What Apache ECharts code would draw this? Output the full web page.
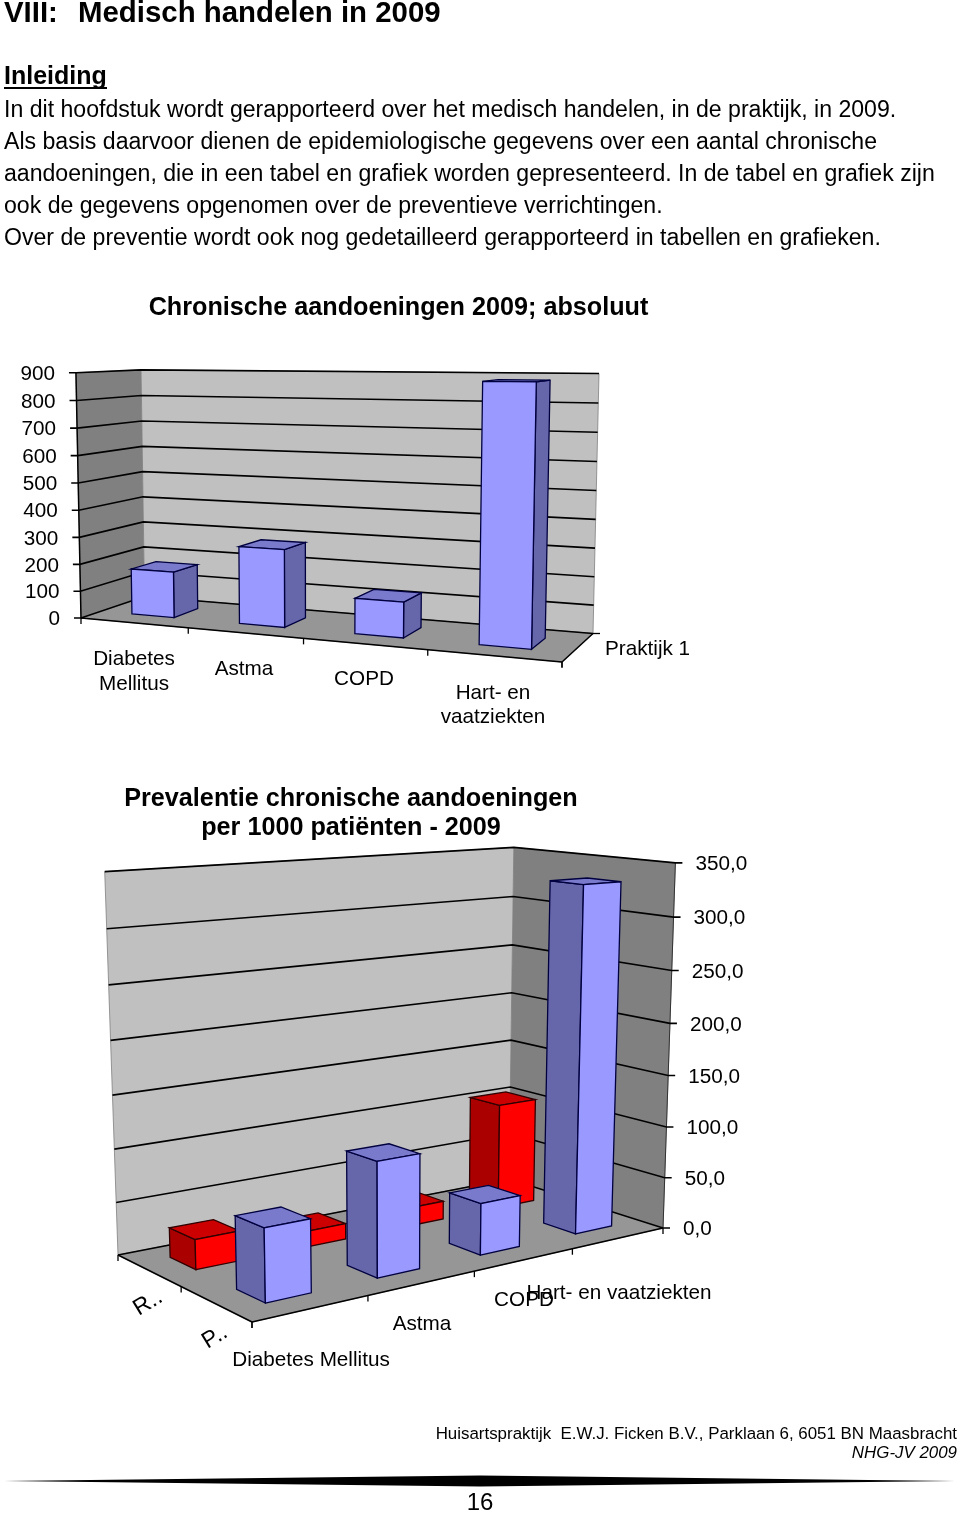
<!DOCTYPE html>
<html><head><meta charset="utf-8">
<style>html,body{margin:0;padding:0;background:#fff}#c{width:960px;height:1513px}</style>
<script src="https://cdn.jsdelivr.net/npm/echarts@6/dist/echarts.min.js"></script>
</head><body><div id="c"></div>
<script>
// ---- data ----
const absCategories = ['Diabetes\nMellitus','Astma','COPD','Hart- en\nvaatziekten'];
const absValues = [170,280,125,880];
const absTicks = [0,100,200,300,400,500,600,700,800,900];
const absSeriesName = 'Praktijk 1';
const prevCategories = ['Diabetes Mellitus','Astma','COPD','Hart- en vaatziekten'];
const prevP = [66,106,49,332];
const prevR = [28,15,18,105];
const prevTicks = [0,50,100,150,200,250,300,350];
const prevTickLabels = ['0,0','50,0','100,0','150,0','200,0','250,0','300,0','350,0'];
const prevSeriesNames = ['R..','P..'];
const headingTexts = ['VIII:','Medisch handelen in 2009','Inleiding'];
const bodyLines = [
 'In dit hoofdstuk wordt gerapporteerd over het medisch handelen, in de praktijk, in 2009.',
 'Als basis daarvoor dienen de epidemiologische gegevens over een aantal chronische',
 'aandoeningen, die in een tabel en grafiek worden gepresenteerd. In de tabel en grafiek zijn',
 'ook de gegevens opgenomen over de preventieve verrichtingen.',
 'Over de preventie wordt ook nog gedetailleerd gerapporteerd in tabellen en grafieken.'];
const chartTitle1 = 'Chronische aandoeningen 2009; absoluut';
const chartTitle2 = ['Prevalentie chronische aandoeningen','per 1000 patiënten - 2009'];
const footerLines = ['Huisartspraktijk  E.W.J. Ficken B.V., Parklaan 6, 6051 BN Maasbracht','NHG-JV 2009'];
const pageNumber = '16';

// ---- layout ----
const FONT = '"Liberation Sans", Arial, sans-serif';
const view1 = {grid:{left:81,top:373,width:481,height:245},
  floor:[[81,618],[562,662],[593,633.5],[144.5,596.5]],
  topFit:[[0,0,76,372],[0,1,141,371],[1,1,599,373]],
  side:0, tickDir:-1, tickOff:-14, gridIndex:0};
const view2 = {grid:{left:252,top:863,width:411,height:365},
  floor:[[252,1322],[663,1228],[509,1179],[118,1255]],
  topFit:[[1,0,676,863],[1,1,513,847],[0,1,105,872]],
  side:1, tickDir:1, tickOff:13, gridIndex:1};

function solve3(M,b){
  const det=m=>m[0][0]*(m[1][1]*m[2][2]-m[1][2]*m[2][1])-m[0][1]*(m[1][0]*m[2][2]-m[1][2]*m[2][0])+m[0][2]*(m[1][0]*m[2][1]-m[1][1]*m[2][0]);
  const d=det(M);
  return [0,1,2].map(c=>det(M.map((row,i)=>row.map((val,j)=>j===c?b[i]:val)))/d);
}
function projector(view){
  const [[x0,y0],[x1,y1],[x2,y2],[x3,y3]] = view.floor;
  const dx1=x1-x2,dx2=x3-x2,sx=x0-x1+x2-x3,dy1=y1-y2,dy2=y3-y2,sy=y0-y1+y2-y3;
  const den=dx1*dy2-dx2*dy1, g=(sx*dy2-dx2*sy)/den, h=(dx1*sy-sx*dy1)/den;
  const a=x1-x0+g*x1,b=x3-x0+h*x3,d=y1-y0+g*y1,e=y3-y0+h*y3;
  // vertical direction (Dx,Dy,r) fitted by least squares to the visible upper corners
  const rows=[],rhs=[];
  view.topFit.forEach(([u,v,X,Y])=>{
    const t=g*u+h*v+1, Fx=(a*u+b*v+x0)/t, Fy=(d*u+e*v+y0)/t;
    rows.push([1,0,-X]);rhs.push(t*(X-Fx));
    rows.push([0,1,-Y]);rhs.push(t*(Y-Fy));
  });
  const ATA=[0,1,2].map(i=>[0,1,2].map(j=>rows.reduce((s,r)=>s+r[i]*r[j],0)));
  const ATb=[0,1,2].map(i=>rows.reduce((s,r,k)=>s+r[i]*rhs[k],0));
  const [Dx,Dy,r]=solve3(ATA,ATb);
  return (u,v,w)=>{
    const t=g*u+h*v+1+r*w;
    return [(a*u+b*v+x0+Dx*w)/t,(d*u+e*v+y0+Dy*w)/t];
  };
}
function poly(points,fill,stroke,lw){return {type:'polygon',shape:{points},style:{fill,stroke:stroke||fill,lineWidth:lw||0.8}};}
function line(points,stroke,lw){return {type:'polyline',shape:{points},style:{fill:null,stroke:stroke||'#000',lineWidth:lw||1.3}};}

function frameSeries(view,n,extra){
  const P=projector(view), s=view.side;
  return {type:'custom',xAxisIndex:view.gridIndex,yAxisIndex:view.gridIndex,silent:true,clip:false,z:1,
    data:[[0,0]],encode:{x:0,y:1},
    renderItem(){
      const ch=[];
      ch.push(poly([P(s,0,0),P(s,1,0),P(s,1,1),P(s,0,1)],'#808080','#808080'));
      ch.push(poly([P(0,1,0),P(1,1,0),P(1,1,1),P(0,1,1)],'#C0C0C0','#808080'));
      ch.push(poly([P(0,0,0),P(1,0,0),P(1,1,0),P(0,1,0)],'#969696','#808080'));
      ch.push(line([P(0,0,0),P(1,0,0)],'#000',1.5));
      for(let i=0;i<=n;i++){const p=P(i/n,0,0);ch.push(line([p,[p[0],p[1]+6]],'#000',1.3));}
      extra(P,ch);
      return {type:'group',children:ch};
    }};
}
function tickSeries(view,ticks,labels){
  const P=projector(view), s=view.side, g=view.grid;
  return {type:'custom',xAxisIndex:view.gridIndex,yAxisIndex:view.gridIndex,silent:true,clip:false,z:2,
    data:ticks.map(t=>[0,t]),encode:{x:0,y:1},
    renderItem(params,api){
      const y=api.coord([0,api.value(1)])[1], w=(g.top+g.height-y)/g.height;
      const a=P(s,0,w),b=P(s,1,w),c=P(1-s,1,w);
      const e=[a[0]+view.tickDir*7,a[1]];
      return {type:'group',children:[
        line([e,a,b,c],'#000',1.6),
        {type:'text',x:e[0]+view.tickOff,y:e[1]+1.5,silent:true,
         style:{text:labels[params.dataIndex],font:'20.7px '+FONT,fill:'#000',
                align:view.tickDir<0?'right':'left',verticalAlign:'middle'}}
      ]};
    }};
}
function barSeries(view,values,v0,v1,cols,z,name){
  const P=projector(view), g=view.grid, s=view.side;
  return {type:'custom',name,xAxisIndex:view.gridIndex,yAxisIndex:view.gridIndex,silent:true,clip:false,z,
    data:values.map((val,i)=>[i,val]),encode:{x:0,y:1},
    renderItem(params,api){
      const c=api.coord([api.value(0),api.value(1)]), band=api.size([1,0])[0];
      const u0=(c[0]-0.2*band-g.left)/g.width, u1=(c[0]+0.2*band-g.left)/g.width;
      const w=(g.top+g.height-c[1])/g.height;
      const su=s?u0:u1, st=cols.stroke, lw=1.3;
      return {type:'group',children:[
        poly([P(su,v0,0),P(su,v1,0),P(su,v1,w),P(su,v0,w)],cols.side,st,lw),
        poly([P(u0,v0,w),P(u1,v0,w),P(u1,v1,w),P(u0,v1,w)],cols.top,st,lw),
        poly([P(u0,v0,0),P(u1,v0,0),P(u1,v0,w),P(u0,v0,w)],cols.front,st,lw)
      ]};
    }};
}
const BLUE={front:'#9999FF',side:'#6666AA',top:'#7A7ACC',stroke:'#000040'};
const RED={front:'#FF0000',side:'#AA0000',top:'#CC0000',stroke:'#300000'};

function txt(text,x,y,size,o){o=o||{};
  return {type:'text',x,y:y+2,silent:true,rotation:o.rot||0,z:20,
    style:{text,font:(o.style||'')+' '+(o.bold?'bold ':'')+size+'px '+FONT,fill:'#000',
      align:o.align||'left',verticalAlign:'middle',lineHeight:o.lh||undefined}};
}
const graphics=[
  txt(headingTexts[0],4,12,29.4,{bold:true}),
  txt(headingTexts[1],78,12,29.4,{bold:true}),
  txt(headingTexts[2],4,75,25,{bold:true}),
  {type:'rect',shape:{x:4,y:87,width:103,height:2},style:{fill:'#000'},silent:true},
  ...bodyLines.map((l,i)=>txt(l,4,109+32*i,23.1)),
  txt(chartTitle1,398.5,306,25.2,{bold:true,align:'center'}),
  txt(chartTitle2[0],351,797,25.2,{bold:true,align:'center'}),
  txt(chartTitle2[1],351,826,25.2,{bold:true,align:'center'}),
  txt(absCategories[0],134,670,20.7,{align:'center',lh:25}),
  txt(absCategories[1],244,667,20.7,{align:'center'}),
  txt(absCategories[2],364,677,20.7,{align:'center'}),
  txt(absCategories[3],493,703,20.7,{align:'center',lh:24}),
  txt(absSeriesName,605,647,20.7),
  txt(prevCategories[0],311,1358,20.7,{align:'center'}),
  txt(prevCategories[1],422,1322,20.7,{align:'center'}),
  txt(prevCategories[2],524,1298,20.7,{align:'center'}),
  txt(prevCategories[3],619,1291,20.7,{align:'center'}),
  txt(prevSeriesNames[0],148,1301,23,{align:'center',rot:0.55}),
  txt(prevSeriesNames[1],215,1335,23,{align:'center',rot:0.55}),
  txt(footerLines[0],957,1432,16.9,{align:'right'}),
  txt(footerLines[1],957,1451,16.9,{align:'right',style:'italic'}),
  {type:'polygon',shape:{points:[[4,1481],[480,1475.5],[955,1481],[480,1486.5]]},style:{fill:'#000'},silent:true},
  txt(pageNumber,480,1501,24,{align:'center'})
];

const axisOff={show:false};
const option={
  animation:false,
  backgroundColor:'#fff',
  grid:[
    {...view1.grid,containLabel:false},
    {...view2.grid,containLabel:false}
  ],
  xAxis:[
    {type:'category',gridIndex:0,data:absCategories,...axisOff},
    {type:'category',gridIndex:1,data:prevCategories,...axisOff}
  ],
  yAxis:[
    {type:'value',gridIndex:0,min:0,max:900,interval:100,...axisOff},
    {type:'value',gridIndex:1,min:0,max:350,interval:50,...axisOff}
  ],
  graphic:{elements:graphics},
  series:[
    frameSeries(view1,absCategories.length,(P,ch)=>{
      ch.push(line([P(1,0,0),P(1,1,0)],'#000',1.5));
      const a=P(1,0,0),b=P(1,1,0);
      ch.push(line([a,[a[0],a[1]+5]],'#000',1.3));
      ch.push(line([b,[b[0]+7,b[1]]],'#000',1.3));
      ch.push(line([P(0,0,0),P(0,0,1)],'#000',1.5));
    }),
    tickSeries(view1,absTicks,absTicks.map(String)),
    barSeries(view1,absValues,0.3,0.7,BLUE,5,absSeriesName),
    frameSeries(view2,prevCategories.length,(P,ch)=>{
      ch.push(line([P(0,0,0),P(0,1,0)],'#000',1.5));
      [0,0.5,1].forEach(v=>{const p=P(0,v,0);ch.push(line([p,[p[0],p[1]+6]],'#000',1.3));});
      ch.push(line([P(1,0,0),P(1,0,1)],'#333',1));
    }),
    tickSeries(view2,prevTicks,prevTickLabels),
    barSeries(view2,prevR,0.65,0.85,RED,4,prevSeriesNames[0]),
    barSeries(view2,prevP,0.15,0.35,BLUE,5,prevSeriesNames[1])
  ]
};
const chart=echarts.init(document.getElementById('c'),null,{renderer:'canvas'});
chart.setOption(option);
</script></body></html>
